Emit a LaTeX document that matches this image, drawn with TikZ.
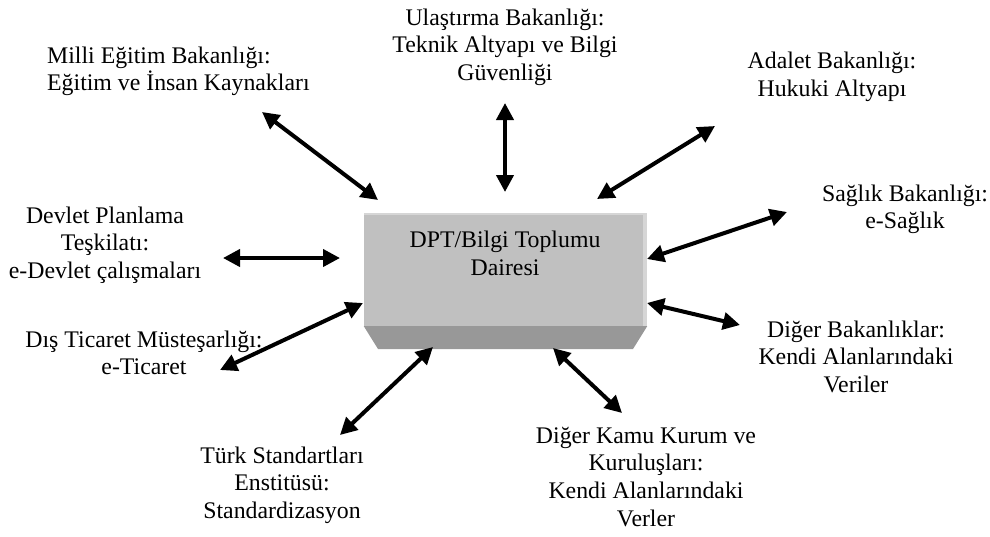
\documentclass[tikz,border=0pt]{standalone}
\usepackage{fontspec}
\setmainfont{Liberation Serif}
\usetikzlibrary{arrows.meta,positioning}
\definecolor{boxface}{RGB}{192,192,192}
\definecolor{boxside}{RGB}{152,152,152}
\definecolor{boxrim}{RGB}{214,214,214}
\tikzset{
  lbl/.style={align=center, anchor=base, inner sep=0pt, font=\fontsize{23.8}{27.8}\selectfont},
  link/.style={{Triangle[length=17pt,width=17pt]}-{Triangle[length=17pt,width=17pt]}, line width=4pt},
}

\begin{document}
\begin{tikzpicture}[x=1pt,y=-1pt]
    \useasboundingbox (0,0) rectangle (990,536);

    % Centre box
    \node[fill=boxface, minimum width=283pt, minimum height=113pt, inner sep=0pt] (dpt) at (505.5,269.5) {};
    \fill[boxside] (dpt.south west) -- (dpt.south east) -- (633,349) -- (378,349) -- cycle;
    \fill[boxrim] (643,213) rectangle (647,326);
    \fill[boxrim] (364,213) rectangle (647,215);
    \node[lbl] (dpttext) at (505,275) {DPT/Bilgi Toplumu\\Dairesi};

    % Units (placed at the baseline of the last line)
    \node[lbl, anchor=base west, align=left] (meb) at (47,90.8) {Milli Eğitim Bakanlığı:\\Eğitim ve İnsan Kaynakları};
    \node[lbl] (ub) at (505,80.6) {Ulaştırma Bakanlığı:\\Teknik Altyapı ve Bilgi\\Güvenliği};
    \node[lbl] (ab) at (832,96) {Adalet Bakanlığı:\\Hukuki Altyapı};
    \node[lbl] (sb) at (905,228.8) {Sağlık Bakanlığı:\\e-Sağlık};
    \node[lbl] (db) at (856,392.6) {Diğer Bakanlıklar:\\Kendi Alanlarındaki\\Veriler};
    \node[lbl] (dk) at (646,526.4) {Diğer Kamu Kurum ve\\Kuruluşları:\\Kendi Alanlarındaki\\Verler};
    \node[lbl] (tse) at (282,518.6) {Türk Standartları\\Enstitüsü:\\Standardizasyon};
    \node[lbl] (dtm) at (144,374.8) {Dış Ticaret Müsteşarlığı:\\e-Ticaret};
    \node[lbl] (dpt-e) at (105,278.6) {Devlet Planlama\\Teşkilatı:\\e-Devlet çalışmaları};

    % Arrow ends
    \coordinate (meb-out) at (262,112); \coordinate (meb-in) at (378,200);
    \coordinate (ub-out) at (505,103);  \coordinate (ub-in) at (505,192);
    \coordinate (ab-out) at (715,126);  \coordinate (ab-in) at (597,199);
    \coordinate (sb-out) at (787,212);  \coordinate (sb-in) at (647,259);
    \coordinate (db-out) at (740,325);  \coordinate (db-in) at (647,303);
    \coordinate (dk-out) at (622,413);  \coordinate (dk-in) at (553,348);
    \coordinate (tse-out) at (340,435); \coordinate (tse-in) at (433,347);
    \coordinate (dtm-out) at (220,370); \coordinate (dtm-in) at (363,303);
    \coordinate (dpt-out) at (223,258); \coordinate (dpt-in) at (340,258);

    % Arrows
    \draw[link] (meb-out) -- (meb-in);
    \draw[link] (ub-out) -- (ub-in);
    \draw[link] (ab-out) -- (ab-in);
    \draw[link] (sb-out) -- (sb-in);
    \draw[link] (db-out) -- (db-in);
    \draw[link] (dk-out) -- (dk-in);
    \draw[link] (tse-out) -- (tse-in);
    \draw[link] (dtm-out) -- (dtm-in);
    \draw[link] (dpt-out) -- (dpt-in);
\end{tikzpicture}
\end{document}
